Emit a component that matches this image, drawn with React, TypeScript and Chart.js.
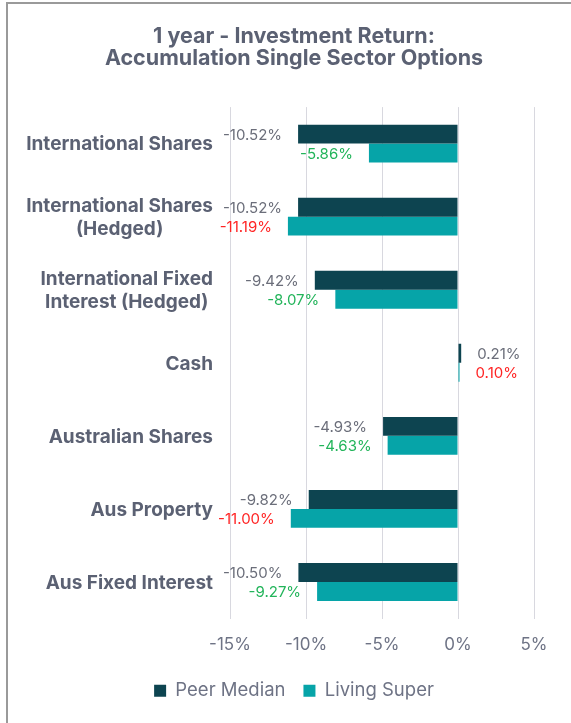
import React, { useEffect, useRef } from 'react';
import { Chart, registerables } from 'chart.js';

Chart.register(...registerables);

const titleLines: string[] = ['1 year - Investment Return:', 'Accumulation Single Sector Options'];
const categories: string[][] = [
  ['International Shares'],
  ['International Shares', '(Hedged)'],
  ['International Fixed', 'Interest (Hedged)'],
  ['Cash'],
  ['Australian Shares'],
  ['Aus Property'],
  ['Aus Fixed Interest'],
];
const seriesNames: string[] = ['Peer Median', 'Living Super'];
const peerMedian: number[] = [-10.52, -10.52, -9.42, 0.21, -4.93, -9.82, -10.5];
const livingSuper: number[] = [-5.86, -11.19, -8.07, 0.1, -4.63, -11.0, -9.27];
const xTicks: number[] = [-15, -10, -5, 0, 5];

const FONT = 'Inter, "Open Sans", sans-serif';
const DARK = '#0d4450';
const TEAL = '#06a4a8';
const SLATE = '#5b6173';
const TICK = '#6e7385';
const PEER_LABEL = '#6b6e7a';
const GREEN = '#22b45a';
const RED = '#ff2424';

const yLabelPlugin = {
  id: 'yLabelPlugin',
  afterDraw(chart: any) {
    const ctx = chart.ctx;
    const yScale = chart.scales.y;
    const left = chart.chartArea.left;
    ctx.save();
    ctx.font = `bold 19px ${FONT}`;
    ctx.fillStyle = SLATE;
    ctx.textAlign = 'center';
    ctx.textBaseline = 'middle';
    const lh = 23;
    (chart.data.labels as any[]).forEach((lab, i) => {
      const lines: string[] = Array.isArray(lab) ? lab : [String(lab)];
      const w = Math.max(...lines.map((l) => ctx.measureText(l).width));
      const cx = left - 17 - w / 2;
      const cy = yScale.getPixelForTick(i) + 1;
      lines.forEach((l, j) => {
        ctx.fillText(l, cx, cy + (j - (lines.length - 1) / 2) * lh);
      });
    });
    ctx.restore();
  },
};

const valueLabelPlugin = {
  id: 'valueLabelPlugin',
  afterDatasetsDraw(chart: any) {
    const ctx = chart.ctx;
    ctx.save();
    ctx.font = `15px ${FONT}`;
    ctx.textBaseline = 'middle';
    const base = chart.data.datasets[0].data as number[];
    chart.data.datasets.forEach((ds: any, d: number) => {
      const meta = chart.getDatasetMeta(d);
      meta.data.forEach((el: any, i: number) => {
        const v = ds.data[i] as number;
        let color = PEER_LABEL;
        if (d === 1) color = v >= base[i] ? GREEN : RED;
        ctx.fillStyle = color;
        const text = v.toFixed(2) + '%';
        if (v < 0) {
          ctx.textAlign = 'right';
          ctx.fillText(text, el.x - 16, el.y + 1);
        } else {
          ctx.textAlign = 'left';
          ctx.fillText(text, el.x + 16, el.y + 1);
        }
      });
    });
    ctx.restore();
  },
};

export default function App() {
  const canvasRef = useRef<HTMLCanvasElement | null>(null);

  useEffect(() => {
    if (!canvasRef.current) return;
    Chart.defaults.font.family = FONT;
    const chart = new Chart(canvasRef.current, {
      type: 'bar',
      data: {
        labels: categories,
        datasets: [
          {
            label: seriesNames[0],
            data: peerMedian,
            backgroundColor: DARK,
            borderWidth: 0,
            categoryPercentage: 0.518,
            barPercentage: 1,
          },
          {
            label: seriesNames[1],
            data: livingSuper,
            backgroundColor: TEAL,
            borderWidth: 0,
            categoryPercentage: 0.518,
            barPercentage: 1,
          },
        ],
      },
      options: {
        indexAxis: 'y',
        responsive: false,
        animation: false,
        layout: { padding: { left: 0, right: 0, top: 0, bottom: 13 } },
        scales: {
          x: {
            type: 'linear',
            min: xTicks[0],
            max: xTicks[xTicks.length - 1],
            ticks: {
              stepSize: xTicks[1] - xTicks[0],
              callback: (v: any) => `${v}%`,
              color: TICK,
              font: { size: 17, family: FONT },
              padding: 16,
            },
            grid: { color: '#d8d8df', lineWidth: 1, drawTicks: false },
            border: { display: false },
            afterFit: (s: any) => {
              s.height = 45;
            },
          },
          y: {
            type: 'category',
            position: 'left',
            ticks: { display: false },
            grid: { display: false },
            border: { display: false },
            afterFit: (s: any) => {
              s.width = 213;
            },
          },
          y2: {
            type: 'category',
            position: 'right',
            display: true,
            ticks: { display: false },
            grid: { display: false },
            border: { display: false },
            afterFit: (s: any) => {
              s.width = 37;
            },
          },
        },
        plugins: {
          title: {
            display: true,
            text: titleLines,
            color: SLATE,
            font: { size: 21.5, weight: 'bold', family: FONT, lineHeight: 1.03 },
            padding: { top: 25, bottom: 37.8 },
          },
          legend: {
            display: true,
            position: 'bottom',
            labels: {
              boxWidth: 12,
              boxHeight: 12,
              padding: 18,
              color: TICK,
              font: { size: 18.5, family: FONT },
            },
          },
          tooltip: { enabled: false },
        },
      },
      plugins: [yLabelPlugin, valueLabelPlugin],
    } as any);
    return () => chart.destroy();
  }, []);

  return (
    <div
      style={{
        position: 'fixed',
        left: 0,
        top: 0,
        width: 571,
        height: 723,
        overflow: 'hidden',
        background: '#ffffff',
      }}
    >
      <div
        style={{
          position: 'absolute',
          left: 6,
          top: 2,
          width: 700,
          height: 800,
          borderLeft: '2px solid #9a9a9a',
          borderTop: '2px solid #9a9a9a',
        }}
      />
      <canvas
        ref={canvasRef}
        width={554}
        height={723}
        style={{ position: 'absolute', left: 17, top: 0, width: 554, height: 723 }}
      />
    </div>
  );
}
